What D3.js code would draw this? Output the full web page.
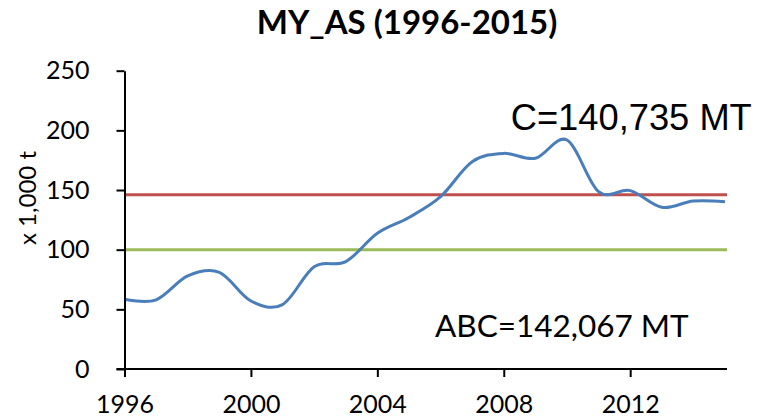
<!DOCTYPE html>
<html>
<head>
<meta charset="utf-8">
<script src="https://cdn.jsdelivr.net/npm/d3@7"></script>
<style>
  html, body { margin: 0; padding: 0; background: #fff; }
  svg { display: block; }
</style>
</head>
<body>
<svg id="chart" width="762" height="418"></svg>
<script>
const years = [1996,1997,1998,1999,2000,2001,2002,2003,2004,2005,2006,2007,2008,2009,2010,2011,2012,2013,2014,2015];
const catch_kt = [58.4,58,78,81,57,54,85.7,90,113.7,127,144.4,173.7,180.7,176.6,191.9,148.6,149.5,135.5,140.8,140.2];
const redLevel = 146;
const greenLevel = 100;
const xTicks = [1996,2000,2004,2008,2012];
const yTicks = [0,50,100,150,200,250];
const titleText = "MY_AS (1996-2015)";
const yLabel = "x 1,000 t";
const cLabel = "C=140,735 MT";
const abcLabel = "ABC=142,067 MT";

const svg = d3.select("#chart");
const W = 762, H = 418;
const m = {left: 124.5, right: 37, top: 70.7, bottom: 49};

const x = d3.scaleLinear().domain([1996, 2015]).range([m.left, W - m.right]);
const y = d3.scaleLinear().domain([0, 250]).range([H - m.bottom, m.top]);

const calibri = "Lato, Carlito, Calibri, sans-serif";

// reference lines
svg.append("line")
  .attr("x1", x(1996)).attr("x2", x(2015) + 2)
  .attr("y1", y(redLevel)).attr("y2", y(redLevel))
  .attr("stroke", "#C0504D").attr("stroke-width", 3);
svg.append("line")
  .attr("x1", x(1996)).attr("x2", x(2015) + 2)
  .attr("y1", y(greenLevel)).attr("y2", y(greenLevel))
  .attr("stroke", "#9BBB59").attr("stroke-width", 3);

// series
const line = d3.line()
  .x((d, i) => x(years[i]))
  .y(d => y(d))
  .curve(d3.curveCardinal.tension(0));
svg.append("path")
  .datum(catch_kt)
  .attr("d", line)
  .attr("fill", "none")
  .attr("stroke", "#4A7EBB")
  .attr("stroke-width", 3)
  .attr("stroke-linejoin", "round");

// axes
const xAxis = d3.axisBottom(x).tickValues(xTicks).tickFormat(d3.format("d"))
  .tickSize(8).tickPadding(18).tickSizeOuter(0);
const gx = svg.append("g").attr("transform", `translate(0,${y(0)})`).call(xAxis);
gx.select(".domain").attr("d", `M${x(1996) - 8},0H${x(2015) + 2}`);

const yAxis = d3.axisLeft(y).tickValues(yTicks).tickSize(8).tickPadding(27).tickSizeOuter(0);
const gy = svg.append("g").attr("transform", `translate(${x(1996)},0)`).call(yAxis);

[gx, gy].forEach(g => {
  g.select(".domain").attr("stroke", "#000").attr("stroke-width", 2);
  g.selectAll(".tick line").attr("stroke", "#000").attr("stroke-width", 2);
  g.selectAll(".tick text").attr("fill", "#000")
    .style("font-family", calibri).style("font-size", "25px");
});

// title
svg.append("text")
  .attr("x", 407).attr("y", 34)
  .attr("text-anchor", "middle")
  .style("font-family", calibri).style("font-weight", "700").style("font-size", "33px")
  .text(titleText);

// y label
svg.append("text")
  .attr("transform", `translate(36,198) rotate(-90)`)
  .attr("text-anchor", "middle")
  .style("font-family", calibri).style("font-size", "24px")
  .text(yLabel);

// annotations
svg.append("text")
  .attr("x", 510.7).attr("y", 130)
  .style("font-family", "'Liberation Sans', Arial, sans-serif").style("font-size", "36.3px")
  .text(cLabel);
svg.append("text")
  .attr("x", 435).attr("y", 336.7)
  .style("font-family", calibri).style("font-size", "31.5px")
  .text(abcLabel);
</script>
</body>
</html>
